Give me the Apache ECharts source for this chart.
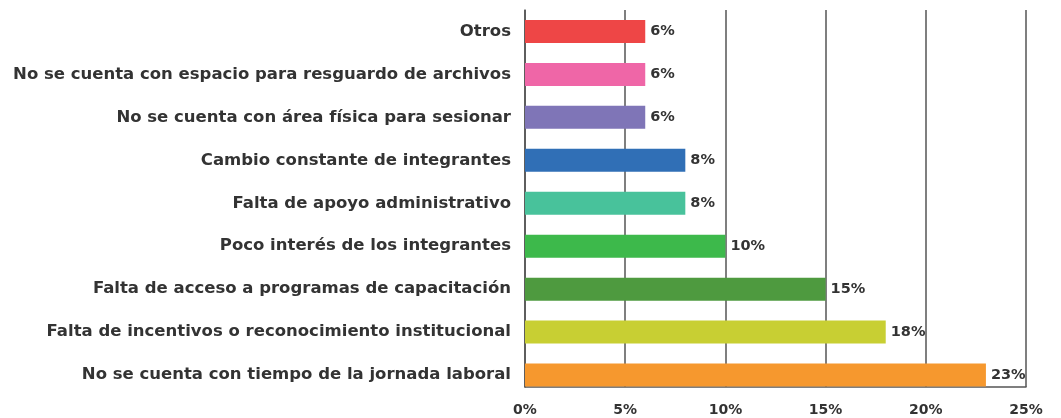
<!DOCTYPE html>
<html>
<head>
<meta charset="utf-8">
<script src="https://cdn.jsdelivr.net/npm/echarts@6/dist/echarts.min.js"></script>
<style>
  html, body { margin: 0; padding: 0; background: #fff; }
  #chart { width: 1061px; height: 418px; }
</style>
</head>
<body>
<div id="chart"></div>
<script>
// categories top to bottom
var categories = [
    'Otros',
    'No se cuenta con espacio para resguardo de archivos',
    'No se cuenta con área física para sesionar',
    'Cambio constante de integrantes',
    'Falta de apoyo administrativo',
    'Poco interés de los integrantes',
    'Falta de acceso a programas de capacitación',
    'Falta de incentivos o reconocimiento institucional',
    'No se cuenta con tiempo de la jornada laboral'
];
var values = [6, 6, 6, 8, 8, 10, 15, 18, 23];
var barColors = ['#ee4646', '#ef66a7', '#7f75b7', '#306fb6', '#48c29b', '#3db94b', '#4e9a3f', '#c8cf33', '#f6982e'];
var xTicks = [0, 5, 10, 15, 20, 25];

var font = 'DejaVu Sans';
var textColor = '#333';
var lineColor = '#555';

var myChart = echarts.init(document.getElementById('chart'));

var option = {
    animation: false,
    grid: [
        // bars
        {left: 525, right: 35, top: 10, height: 386.5},
        // axis frame + gridlines
        {left: 525, right: 35, top: 10, bottom: 31}
    ],
    xAxis: [
        {
            gridIndex: 0, type: 'value', min: 0, max: 25,
            show: false
        },
        {
            gridIndex: 1, type: 'value', min: xTicks[0], max: xTicks[xTicks.length - 1], interval: 5,
            axisLine: {show: true, lineStyle: {color: lineColor, width: 1.5}},
            axisTick: {show: false},
            splitLine: {show: true, lineStyle: {color: lineColor, width: 1.5}},
            axisLabel: {
                margin: 16,
                color: textColor,
                fontFamily: font,
                fontWeight: 'bold',
                fontSize: 14,
                formatter: '{value}%'
            }
        }
    ],
    yAxis: [
        {
            gridIndex: 0, type: 'category', inverse: true, data: categories,
            axisLine: {show: false},
            axisTick: {show: false},
            axisLabel: {
                margin: 14,
                color: textColor,
                fontFamily: font,
                fontWeight: 'bold',
                fontSize: 16.5
            }
        },
        {
            gridIndex: 1, type: 'category', data: [''],
            axisLine: {show: true, lineStyle: {color: lineColor, width: 1.5}},
            axisTick: {show: false},
            axisLabel: {show: false}
        }
    ],
    series: [
        {
            type: 'bar',
            xAxisIndex: 0,
            yAxisIndex: 0,
            barWidth: 23,
            data: values.map(function (v, i) {
                return {value: v, itemStyle: {color: barColors[i]}};
            }),
            label: {
                show: true,
                position: 'right',
                distance: 5,
                color: textColor,
                fontFamily: font,
                fontWeight: 'bold',
                fontSize: 14.5,
                formatter: '{c}%'
            }
        }
    ]
};
myChart.setOption(option);
</script>
</body>
</html>
